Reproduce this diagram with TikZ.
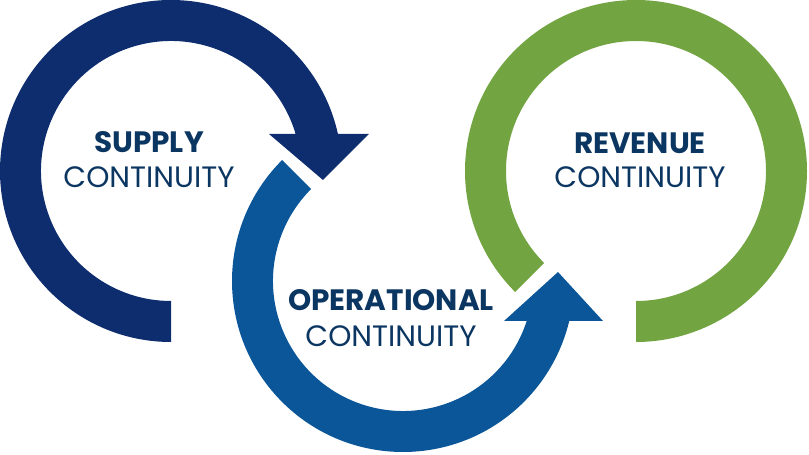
\documentclass[tikz,border=0pt]{standalone}
\usepackage{fontspec}
\setmainfont{Poppins}
\usetikzlibrary{calc}

\definecolor{supplyblue}{RGB}{14,45,110}
\definecolor{opblue}{RGB}{10,86,153}
\definecolor{revgreen}{RGB}{114,164,65}
\definecolor{textblue}{RGB}{12,54,98}

\begin{document}
\begin{tikzpicture}[x=1pt, y=1pt,
		head/.style={font=\fontsize{29.5}{31}\selectfont\bfseries, text=textblue, anchor=base},
		sub/.style={font=\fontsize{29.5}{31}\selectfont, text=textblue, anchor=base}]
		\useasboundingbox (0,0) rectangle (809,455);
		\coordinate (S) at (171,284);
		\coordinate (O) at (403,174);
		\coordinate (R) at (636,284);

		% supply ring, arrow pointing down
		\fill[supplyblue] ($(S)+(270:171)$) arc[start angle=270, end angle=12.5, radius=171]
			-- (369,321) -- (323,275) -- (269,321) -- ($(S)+(16.54:130)$)
			arc[start angle=16.54, end angle=270, radius=130] -- cycle;
		% operational ring, arrow pointing up
		\fill[opblue] ($(O)+(135:171)$) arc[start angle=135, end angle=346.47, radius=171]
			-- (603,134) -- (558,183) -- (504,134) -- ($(O)+(342.08:130)$)
			arc[start angle=342.08, end angle=135, radius=130] -- cycle;
		% revenue ring
		\fill[revgreen] ($(R)+(225:171)$) arc[start angle=225, end angle=-90, radius=171]
			-- ($(R)+(-90:130)$) arc[start angle=-90, end angle=225, radius=130] -- cycle;

		\node [head] (supply) at (149,302) {SUPPLY};
		\node [sub ] (supplyc) at (149,267) {CONTINUITY};
		\node [head] (oper) at (391,144) {OPERATIONAL};
		\node [sub ] (operc) at (391,108) {CONTINUITY};
		\node [head] (rev) at (640,301) {REVENUE};
		\node [sub ] (revc) at (640,267) {CONTINUITY};
	\end{tikzpicture}
\end{document}
